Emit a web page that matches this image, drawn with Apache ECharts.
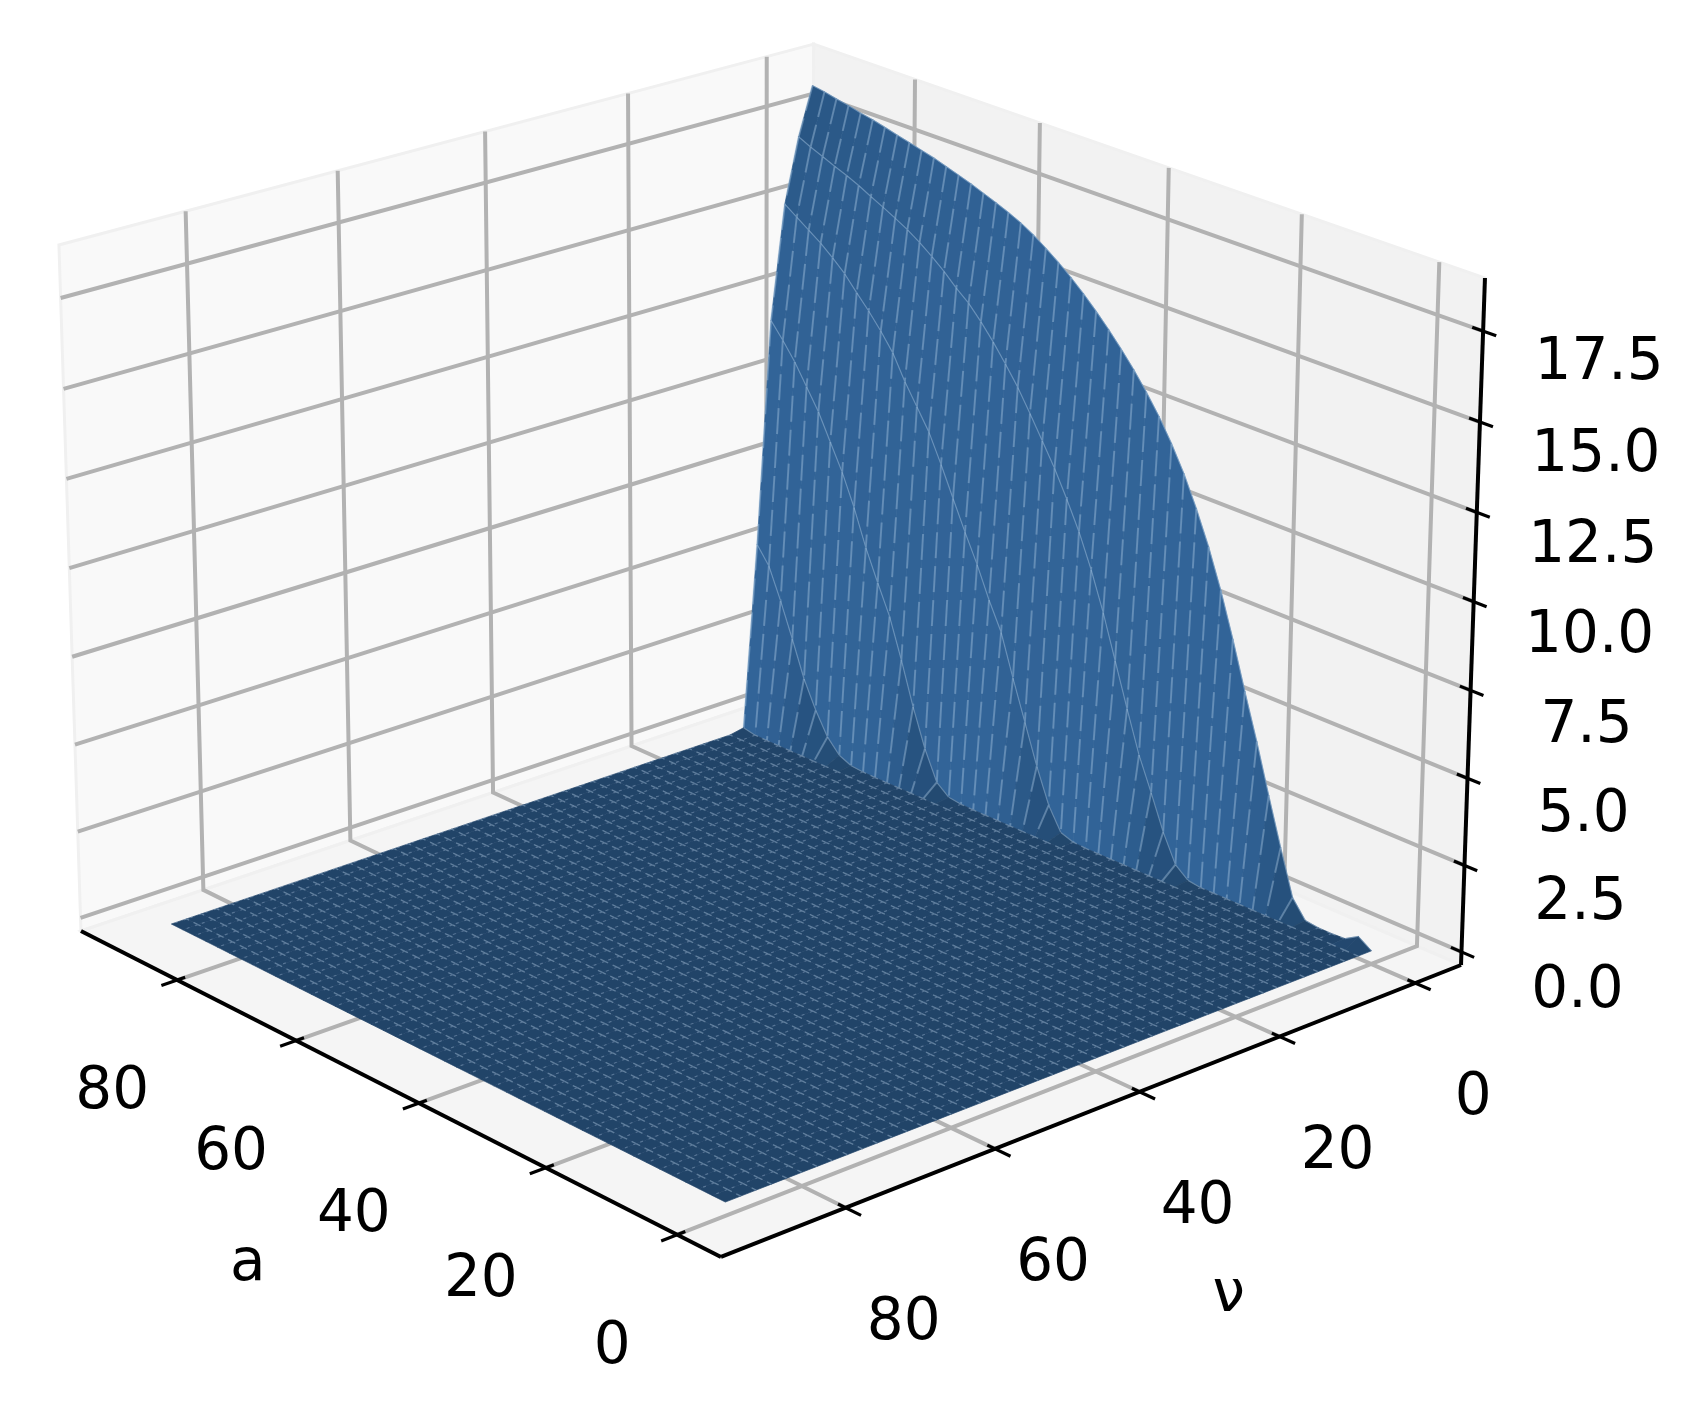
<!DOCTYPE html>
<html>
<head>
<meta charset="utf-8">
<title>surface</title>
<script src="https://cdn.jsdelivr.net/npm/echarts@6/dist/echarts.min.js"></script>
<style>
  html, body { margin: 0; padding: 0; background: #fff; }
  #chart { width: 1687px; height: 1411px; filter: blur(0.7px); }
</style>
</head>
<body>
<div id="chart"></div>
<script>
// grid of the surface
const aValues = [0, 1.98, 3.96, 5.94, 7.92, 9.9, 11.88, 13.86, 15.84, 17.82, 19.8, 21.78, 23.76, 25.74, 27.72, 29.7, 31.68, 33.66, 35.64, 37.62, 39.6, 41.58, 43.56, 45.54, 47.52, 49.5, 51.48, 53.46, 55.44, 57.42, 59.4, 61.38, 63.36, 65.34, 67.32, 69.3, 71.28, 73.26, 75.24, 77.22, 79.2, 81.18, 83.16, 85.14, 87.12, 89.1]
const nuValues = [0, 2, 4, 6, 8, 10, 12, 14, 16, 18, 20, 22, 24, 26, 28, 30, 32, 34, 36, 38, 40, 42, 44, 46, 48, 50, 52, 54, 56, 58, 60, 62, 64, 66, 68, 70, 72, 74, 76, 78, 80, 82, 84, 86, 88, 90]

// height per a, one list per nu row
const zNu0 = [0, 0.25, 0.02, 0, 0, 0.05, 0.55, 1.85, 3.2, 4.6, 5.9, 7.25, 8.5, 9.6, 10.55, 11.4, 12.12, 12.75, 13.3, 13.8, 14.25, 14.67, 15.06, 15.42, 15.75, 16.05, 16.32, 16.57, 16.78, 16.95, 17.1, 17.24, 17.38, 17.5, 17.62, 17.74, 17.83, 17.93, 18.02, 18.12, 18.21, 18.28, 18.37, 18.44, 18.52, 18.58]
const zNu2 = [0, 0, 0, 0, 0, 0, 0, 0, 0, 0, 0, 0, 0, 0.05, 0.35, 1.15, 2.15, 3.1, 4.3, 5.55, 6.8, 7.9, 8.85, 9.65, 10.4, 11.05, 11.7, 12.32, 12.85, 13.35, 13.8, 14.2, 14.5, 14.85, 15.15, 15.42, 15.66, 15.86, 16.05, 16.23, 16.42, 16.58, 16.72, 16.88, 17.03, 17.2]
const zNu4 = [0, 0, 0, 0, 0, 0, 0, 0, 0, 0, 0, 0, 0, 0, 0, 0, 0, 0, 0, 0, 0, 0.02, 0.15, 0.8, 1.8, 2.95, 4.1, 5.3, 6.1, 7.0, 7.8, 8.65, 9.5, 10.3, 10.9, 11.5, 12.2, 12.7, 13.15, 13.55, 13.97, 14.3, 14.6, 14.85, 15.1, 15.35]
const zNu6 = [0, 0, 0, 0, 0, 0, 0, 0, 0, 0, 0, 0, 0, 0, 0, 0, 0, 0, 0, 0, 0, 0, 0, 0, 0, 0, 0, 0, 0, 0.01, 0.06, 0.35, 1.2, 2.3, 3.55, 4.7, 5.55, 6.45, 7.5, 8.4, 9.15, 9.9, 10.5, 11.1, 11.6, 12.05]
const zNu8 = [0, 0, 0, 0, 0, 0, 0, 0, 0, 0, 0, 0, 0, 0, 0, 0, 0, 0, 0, 0, 0, 0, 0, 0, 0, 0, 0, 0, 0, 0, 0, 0, 0, 0, 0, 0, 0.01, 0.04, 0.2, 0.6, 1.25, 2.05, 3.1, 4.1, 5.0, 5.5]
const zNu10 = [0, 0, 0, 0, 0, 0, 0, 0, 0, 0, 0, 0, 0, 0, 0, 0, 0, 0, 0, 0, 0, 0, 0, 0, 0, 0, 0, 0, 0, 0, 0, 0, 0, 0, 0, 0, 0, 0, 0, 0, 0, 0, 0, 0, 0.01, 0.08]
const zFlat = [0, 0, 0, 0, 0, 0, 0, 0, 0, 0, 0, 0, 0, 0, 0, 0, 0, 0, 0, 0, 0, 0, 0, 0, 0, 0, 0, 0, 0, 0, 0, 0, 0, 0, 0, 0, 0, 0, 0, 0, 0, 0, 0, 0, 0, 0]

// ticks
const aTicks = [0, 20, 40, 60, 80]
const nuTicks = [0, 20, 40, 60, 80]
const zTicks = [0, 2.5, 5, 7.5, 10, 12.5, 15, 17.5]
const zTickLabels = ['0.0', '2.5', '5.0', '7.5', '10.0', '12.5', '15.0', '17.5']

// axis limits
const aRange = [-6.5, 96.7]
const nuRange = [-6.9, 96.2]
const zRange = [-0.38, 18.95]

// perspective camera of the box, u along a, v along nu, w along z
const cam = {
  o: [1461, 965, 1],
  u: [-582.1, -222.6, 0.083],
  v: [-797.7, 191.4, -0.08],
  w: [-24, -696, -0.0323]
}

const project = (u, v, w) => {
  const h = [0, 1, 2].map(k => cam.o[k] + u * cam.u[k] + v * cam.v[k] + w * cam.w[k])
  return [h[0] / h[2], h[1] / h[2]]
}
const uOf = a => (a - aRange[0]) / (aRange[1] - aRange[0])
const vOf = nu => (nu - nuRange[0]) / (nuRange[1] - nuRange[0])
const wOf = z => (z - zRange[0]) / (zRange[1] - zRange[0])

const zAt = (i, j) => {
  const rows = [zNu0, zNu2, zNu4, zNu6, zNu8, zNu10]
  return (rows[j] || zFlat)[i]
}

const mix = (c1, c2, t) => {
  const k = Math.max(0, Math.min(1, t))
  return 'rgb(' + [0, 1, 2].map(n => Math.round(c1[n] + (c2[n] - c1[n]) * k)).join(',') + ')'
}
const floorColor = [33, 68, 104]
const topColor = [39, 83, 128]
const wallColor = [50, 100, 152]

const shade = corners => {
  // normal of the cell in the box
  const d1 = [0, 1, 2].map(k => corners[2][k] - corners[0][k])
  const d2 = [0, 1, 2].map(k => corners[3][k] - corners[1][k])
  const n = [d1[1] * d2[2] - d1[2] * d2[1], d1[2] * d2[0] - d1[0] * d2[2], d1[0] * d2[1] - d1[1] * d2[0]]
  const len = Math.sqrt(n[0] * n[0] + n[1] * n[1] + n[2] * n[2]) || 1
  const side = Math.abs(n[1]) / len
  if (side < 0.93) return mix(floorColor, topColor, side / 0.93)
  return mix(topColor, wallColor, (side - 0.93) / 0.065)
}

const surfaceData = []
for (let j = 0; j < nuValues.length - 1; j++) {
  for (let i = aValues.length - 2; i >= 0; i--) {
    surfaceData.push([i, j])
  }
}

const renderCell = (params, api) => {
  const i = api.value(0)
  const j = api.value(1)
  const idx = [[i, j], [i + 1, j], [i + 1, j + 1], [i, j + 1]]
  const box = idx.map(p => [uOf(aValues[p[0]]), vOf(nuValues[p[1]]), wOf(zAt(p[0], p[1]))])
  const pts = box.map(b => api.coord(project(b[0], b[1], b[2])))
  const fill = shade(box.map(b => [b[0], b[1], b[2] * 0.75]))
  const tall = Math.abs(pts[1][1] - pts[2][1]) > 14
  const children = [{
    type: 'polygon',
    shape: { points: pts },
    style: { fill: fill, stroke: fill, lineWidth: 0.7 }
  }]
  if (tall) {
    children.push({
      type: 'polyline',
      shape: { points: [pts[1], pts[2]] },
      style: { stroke: 'rgba(165,195,225,0.42)', lineWidth: 2, lineDash: [26, 8], fill: null }
    })
  }
  const rowEdge = zAt(i, j) > 0.02 || zAt(i + 1, j) > 0.02
  children.push({
    type: 'polyline',
    shape: { points: [pts[0], pts[1]] },
    style: rowEdge
      ? { stroke: 'rgba(165,195,225,0.45)', lineWidth: 1.2, fill: null }
      : { stroke: 'rgba(175,200,225,0.42)', lineWidth: 1.4, lineDash: [5, 5], fill: null }
  })
  if (!tall && !rowEdge) {
    children.push({
      type: 'polyline',
      shape: { points: [pts[1], pts[2]] },
      style: { stroke: 'rgba(175,200,225,0.34)', lineWidth: 1.2, lineDash: [3, 6], fill: null }
    })
  }
  return { type: 'group', children: children, silent: true }
}

// panes: [corners in box coordinates, fill]
const paneCorners = [
  { fill: '#f9f9f9', pts: [[1, 0, 0], [1, 1, 0], [1, 1, 1], [1, 0, 1]] },
  { fill: '#f2f2f2', pts: [[0, 0, 0], [1, 0, 0], [1, 0, 1], [0, 0, 1]] },
  { fill: '#f5f5f5', pts: [[0, 0, 0], [0, 1, 0], [1, 1, 0], [1, 0, 0]] }
]

const renderPane = (params, api) => {
  const pane = paneCorners[api.value(0)]
  const pts = pane.pts.map(p => api.coord(project(p[0], p[1], p[2])))
  return {
    type: 'polygon',
    shape: { points: pts },
    style: { fill: pane.fill, stroke: '#f0f0f0', lineWidth: 3 }
  }
}

const gridStyle = { stroke: '#b2b2b2', lineWidth: 4, fill: null, lineJoin: 'miter' }
const gridData = []
aTicks.forEach(t => gridData.push(['a', t]))
nuTicks.forEach(t => gridData.push(['nu', t]))
zTicks.forEach(t => gridData.push(['z', t]))

const renderGrid = (params, api) => {
  const kind = gridData[params.dataIndex][0]
  const t = gridData[params.dataIndex][1]
  let line
  if (kind === 'a') {
    line = [[uOf(t), 1, 0], [uOf(t), 0, 0], [uOf(t), 0, 1]]
  } else if (kind === 'nu') {
    line = [[0, vOf(t), 0], [1, vOf(t), 0], [1, vOf(t), 1]]
  } else {
    line = [[1, 1, wOf(t)], [1, 0, wOf(t)], [0, 0, wOf(t)]]
  }
  return {
    type: 'polyline',
    shape: { points: line.map(p => api.coord(project(p[0], p[1], p[2]))) },
    style: gridStyle
  }
}

// axis lines and tick marks, in box coordinates
const axisLines = [
  [[0, 1, 0], [1, 1, 0]],
  [[0, 0, 0], [0, 1, 0]],
  [[0, 0, 0], [0, 0, 1]]
]
aTicks.forEach(t => axisLines.push([[uOf(t), 1.02, 0], [uOf(t), 0.99, 0]]))
nuTicks.forEach(t => axisLines.push([[-0.022, vOf(t), 0], [0.011, vOf(t), 0]]))
zTicks.forEach(t => axisLines.push([[-0.018, 0, wOf(t)], [0.015, 0, wOf(t)]]))

const renderAxisLine = (params, api) => {
  const seg = axisLines[params.dataIndex]
  return {
    type: 'polyline',
    shape: { points: seg.map(p => api.coord(project(p[0], p[1], p[2]))) },
    style: { stroke: '#000', lineWidth: params.dataIndex < 3 ? 4 : 3.2, fill: null }
  }
}

// labels: [text, box point, pixel offset]
const labelData = []
aTicks.forEach(t => labelData.push([String(t), [uOf(t), 1, 0], [-65, 113]]))
nuTicks.forEach(t => labelData.push([String(t), [0, vOf(t), 0], [58, 116]]))
zTicks.forEach((t, n) => labelData.push([zTickLabels[n], [0, 0, wOf(t)], [116, 40 - t * 0.43]]))
labelData.push(['a', [uOf(40), 1, 0], [-171, 162]])
labelData.push(['ν', [0, vOf(40), 0], [89, 204]])

const renderLabel = (params, api) => {
  const item = labelData[params.dataIndex]
  const p = api.coord(project(item[1][0], item[1][1], item[1][2]))
  return {
    type: 'text',
    style: {
      text: item[0],
      x: p[0] + item[2][0],
      y: p[1] + item[2][1],
      fill: '#000',
      font: '58px "DejaVu Sans"',
      align: 'center',
      verticalAlign: 'middle'
    }
  }
}

const customSeries = (renderItem, data) => ({
  type: 'custom',
  coordinateSystem: 'cartesian2d',
  renderItem: renderItem,
  data: data,
  clip: false,
  silent: true,
  animation: false,
  progressive: 0
})

const option = {
  backgroundColor: '#fff',
  animation: false,
  grid: { left: 0, right: 0, top: 0, bottom: 0 },
  xAxis: { type: 'value', min: 0, max: 1687, show: false },
  yAxis: { type: 'value', min: 0, max: 1411, inverse: true, show: false },
  series: [
    customSeries(renderPane, paneCorners.map((p, n) => [n])),
    customSeries(renderGrid, gridData.map((g, n) => [n])),
    customSeries(renderCell, surfaceData),
    customSeries(renderAxisLine, axisLines.map((l, n) => [n])),
    customSeries(renderLabel, labelData.map((l, n) => [n]))
  ]
}

const chart = echarts.init(document.getElementById('chart'), null, { renderer: 'canvas' })
chart.setOption(option)
</script>
</body>
</html>
